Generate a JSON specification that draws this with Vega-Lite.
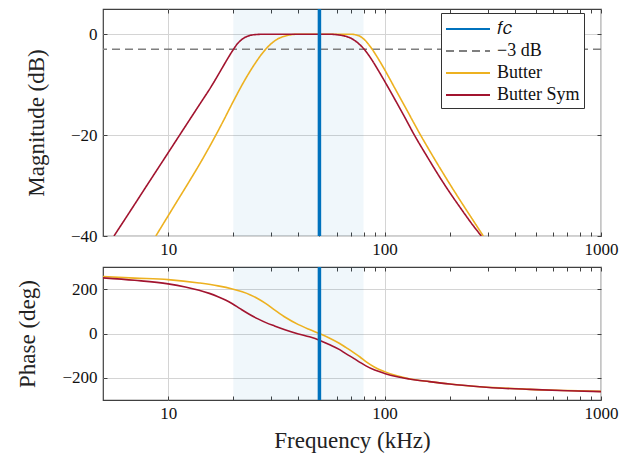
{
  "$schema": "https://vega.github.io/schema/vega-lite/v6.json",
  "background": "white",
  "padding": {"left": 16, "top": 6, "right": 0, "bottom": 2},
  "spacing": 6,
  "datasets": {
    "mag": [
      {"s": "Butter", "f": 8.77, "db": -40},
      {"s": "Butter", "f": 10, "db": -36.0},
      {"s": "Butter", "f": 11.22, "db": -32.5},
      {"s": "Butter", "f": 12.59, "db": -29.0},
      {"s": "Butter", "f": 14.13, "db": -25.4},
      {"s": "Butter", "f": 15.85, "db": -21.6},
      {"s": "Butter", "f": 17.78, "db": -17.6},
      {"s": "Butter", "f": 19.95, "db": -13.4},
      {"s": "Butter", "f": 22.39, "db": -9.4},
      {"s": "Butter", "f": 25.12, "db": -5.9},
      {"s": "Butter", "f": 27.8, "db": -3.3},
      {"s": "Butter", "f": 31.62, "db": -1.1},
      {"s": "Butter", "f": 35.48, "db": -0.25},
      {"s": "Butter", "f": 39.81, "db": 0},
      {"s": "Butter", "f": 50, "db": 0},
      {"s": "Butter", "f": 60, "db": 0},
      {"s": "Butter", "f": 69.2, "db": 0},
      {"s": "Butter", "f": 74.1, "db": -0.15},
      {"s": "Butter", "f": 79.4, "db": -0.8},
      {"s": "Butter", "f": 83.2, "db": -1.7},
      {"s": "Butter", "f": 87.7, "db": -3.0},
      {"s": "Butter", "f": 93.3, "db": -4.8},
      {"s": "Butter", "f": 100, "db": -7.0},
      {"s": "Butter", "f": 112.2, "db": -10.9},
      {"s": "Butter", "f": 125.9, "db": -14.8},
      {"s": "Butter", "f": 144.9, "db": -19.6},
      {"s": "Butter", "f": 158.5, "db": -22.5},
      {"s": "Butter", "f": 177.8, "db": -26.1},
      {"s": "Butter", "f": 199.5, "db": -29.6},
      {"s": "Butter", "f": 223.9, "db": -33.0},
      {"s": "Butter", "f": 251.2, "db": -36.3},
      {"s": "Butter", "f": 285.8, "db": -40},
      {"s": "Butter Sym", "f": 5.62, "db": -40},
      {"s": "Butter Sym", "f": 6.31, "db": -36.7},
      {"s": "Butter Sym", "f": 7.08, "db": -33.4},
      {"s": "Butter Sym", "f": 7.94, "db": -30.1},
      {"s": "Butter Sym", "f": 8.91, "db": -26.8},
      {"s": "Butter Sym", "f": 10, "db": -23.5},
      {"s": "Butter Sym", "f": 11.22, "db": -20.2},
      {"s": "Butter Sym", "f": 12.59, "db": -16.9},
      {"s": "Butter Sym", "f": 14.13, "db": -13.6},
      {"s": "Butter Sym", "f": 15.85, "db": -10.3},
      {"s": "Butter Sym", "f": 17.38, "db": -7.4},
      {"s": "Butter Sym", "f": 18.62, "db": -5.2},
      {"s": "Butter Sym", "f": 19.82, "db": -3.3},
      {"s": "Butter Sym", "f": 20.89, "db": -1.9},
      {"s": "Butter Sym", "f": 22.13, "db": -0.9},
      {"s": "Butter Sym", "f": 23.44, "db": -0.35},
      {"s": "Butter Sym", "f": 25.12, "db": -0.08},
      {"s": "Butter Sym", "f": 28.18, "db": 0},
      {"s": "Butter Sym", "f": 40, "db": 0},
      {"s": "Butter Sym", "f": 54.95, "db": 0},
      {"s": "Butter Sym", "f": 60.26, "db": -0.1},
      {"s": "Butter Sym", "f": 64.57, "db": -0.3},
      {"s": "Butter Sym", "f": 69.18, "db": -0.7},
      {"s": "Butter Sym", "f": 74.13, "db": -1.5},
      {"s": "Butter Sym", "f": 80.54, "db": -3.0},
      {"s": "Butter Sym", "f": 87.1, "db": -5.0},
      {"s": "Butter Sym", "f": 93.33, "db": -7.1},
      {"s": "Butter Sym", "f": 100, "db": -9.3},
      {"s": "Butter Sym", "f": 112.2, "db": -13.1},
      {"s": "Butter Sym", "f": 125.9, "db": -17.0},
      {"s": "Butter Sym", "f": 134.9, "db": -19.4},
      {"s": "Butter Sym", "f": 158.5, "db": -24.5},
      {"s": "Butter Sym", "f": 177.8, "db": -28.0},
      {"s": "Butter Sym", "f": 199.5, "db": -31.3},
      {"s": "Butter Sym", "f": 223.9, "db": -34.4},
      {"s": "Butter Sym", "f": 251.2, "db": -37.4},
      {"s": "Butter Sym", "f": 279.9, "db": -40}
    ],
    "phase": [
      {"s": "Butter", "f": 5, "deg": 257},
      {"s": "Butter", "f": 7, "deg": 250},
      {"s": "Butter", "f": 10, "deg": 243},
      {"s": "Butter", "f": 13.9, "deg": 228},
      {"s": "Butter", "f": 17, "deg": 215},
      {"s": "Butter", "f": 19.8, "deg": 201},
      {"s": "Butter", "f": 22, "deg": 188},
      {"s": "Butter", "f": 24, "deg": 174},
      {"s": "Butter", "f": 26, "deg": 157},
      {"s": "Butter", "f": 28.3, "deg": 135},
      {"s": "Butter", "f": 31, "deg": 107},
      {"s": "Butter", "f": 34.9, "deg": 72},
      {"s": "Butter", "f": 40, "deg": 40},
      {"s": "Butter", "f": 45, "deg": 18},
      {"s": "Butter", "f": 50, "deg": 0},
      {"s": "Butter", "f": 55.5, "deg": -20},
      {"s": "Butter", "f": 62, "deg": -45},
      {"s": "Butter", "f": 66.5, "deg": -64},
      {"s": "Butter", "f": 72, "deg": -86},
      {"s": "Butter", "f": 77, "deg": -106},
      {"s": "Butter", "f": 82, "deg": -127},
      {"s": "Butter", "f": 90, "deg": -152},
      {"s": "Butter", "f": 100, "deg": -172},
      {"s": "Butter", "f": 113, "deg": -190},
      {"s": "Butter", "f": 130, "deg": -204},
      {"s": "Butter", "f": 161, "deg": -217},
      {"s": "Butter", "f": 200, "deg": -228},
      {"s": "Butter", "f": 275, "deg": -240},
      {"s": "Butter", "f": 350, "deg": -246},
      {"s": "Butter", "f": 470, "deg": -252},
      {"s": "Butter", "f": 700, "deg": -257},
      {"s": "Butter", "f": 1000, "deg": -261},
      {"s": "Butter Sym", "f": 5, "deg": 251},
      {"s": "Butter Sym", "f": 7, "deg": 240},
      {"s": "Butter Sym", "f": 10, "deg": 224},
      {"s": "Butter Sym", "f": 12, "deg": 210},
      {"s": "Butter Sym", "f": 13.9, "deg": 195},
      {"s": "Butter Sym", "f": 15.5, "deg": 181},
      {"s": "Butter Sym", "f": 17, "deg": 166},
      {"s": "Butter Sym", "f": 18.5, "deg": 150},
      {"s": "Butter Sym", "f": 19.8, "deg": 134},
      {"s": "Butter Sym", "f": 21.5, "deg": 112},
      {"s": "Butter Sym", "f": 23.7, "deg": 87},
      {"s": "Butter Sym", "f": 26, "deg": 66},
      {"s": "Butter Sym", "f": 28.3, "deg": 49},
      {"s": "Butter Sym", "f": 31, "deg": 34},
      {"s": "Butter Sym", "f": 34.9, "deg": 16},
      {"s": "Butter Sym", "f": 40, "deg": -2},
      {"s": "Butter Sym", "f": 45, "deg": -15},
      {"s": "Butter Sym", "f": 50, "deg": -30},
      {"s": "Butter Sym", "f": 55.5, "deg": -50},
      {"s": "Butter Sym", "f": 62, "deg": -73},
      {"s": "Butter Sym", "f": 66.5, "deg": -92},
      {"s": "Butter Sym", "f": 72, "deg": -112},
      {"s": "Butter Sym", "f": 77, "deg": -130},
      {"s": "Butter Sym", "f": 82, "deg": -146},
      {"s": "Butter Sym", "f": 90, "deg": -165},
      {"s": "Butter Sym", "f": 100, "deg": -180},
      {"s": "Butter Sym", "f": 113, "deg": -194},
      {"s": "Butter Sym", "f": 130, "deg": -205},
      {"s": "Butter Sym", "f": 161, "deg": -217},
      {"s": "Butter Sym", "f": 200, "deg": -228},
      {"s": "Butter Sym", "f": 275, "deg": -240},
      {"s": "Butter Sym", "f": 350, "deg": -247},
      {"s": "Butter Sym", "f": 470, "deg": -252},
      {"s": "Butter Sym", "f": 700, "deg": -258},
      {"s": "Butter Sym", "f": 1000, "deg": -262}
    ],
    "fc": [{"s": "𝑓𝑐", "f": 50}],
    "ref": [{"s": "−3 dB", "db": -3}],
    "band": [{"f1": 20, "f2": 80}]
  },
  "vconcat": [
    {
      "width": 498,
      "height": 227,
      "resolve": {"axis": {"x": "independent", "y": "independent"}},
      "layer": [
        {
          "layer": [
            {
              "data": {"name": "band"},
              "mark": {"type": "rect", "fill": "#0072BD", "opacity": 0.06},
              "encoding": {
                "x": {"field": "f1", "type": "quantitative", "scale": {"type": "log", "domain": [5, 1000], "nice": false},
                  "axis": {"orient": "bottom", "title": null, "values": [10,20,30,40,50,60,70,80,90,100,200,300,400,500,600,700,800,900,1000],
                    "labelExpr": "indexof([10,100,1000], datum.value) >= 0 ? format(datum.value, 'd') : ''",
                    "gridOpacity": {"condition": {"test": "indexof([10,100,1000], datum.value) >= 0", "value": 1}, "value": 0}}},
                "x2": {"field": "f2"}
              }
            },
            {
              "data": {"name": "ref"},
              "mark": {"type": "rule", "strokeWidth": 1.5},
              "encoding": {
                "y": {"field": "db", "type": "quantitative", "scale": {"domain": [-40, 5], "nice": false, "zero": false},
                  "axis": {"orient": "left", "title": "Magnitude (dB)", "values": [-40, -20, 0]}},
                "color": {"field": "s", "type": "nominal"},
                "strokeDash": {"field": "s", "type": "nominal"}
              }
            },
            {
              "data": {"name": "mag"},
              "mark": {"type": "line", "strokeWidth": 1.6, "interpolate": "monotone", "clip": true},
              "encoding": {
                "x": {"field": "f", "type": "quantitative"},
                "y": {"field": "db", "type": "quantitative"},
                "color": {"field": "s", "type": "nominal"},
                "strokeDash": {"field": "s", "type": "nominal"}
              }
            },
            {
              "data": {"name": "fc"},
              "mark": {"type": "rule", "strokeWidth": 3.5},
              "encoding": {
                "x": {"field": "f", "type": "quantitative"},
                "color": {"field": "s", "type": "nominal",
                  "scale": {"domain": ["𝑓𝑐", "−3 dB", "Butter", "Butter Sym"], "range": ["#0072BD", "#7f7f7f", "#EDB120", "#A2142F"]},
                  "legend": {"title": null, "orient": "none", "legendX": 338, "legendY": 4}},
                "strokeDash": {"field": "s", "type": "nominal",
                  "scale": {"domain": ["𝑓𝑐", "−3 dB", "Butter", "Butter Sym"], "range": [[1, 0], [8, 5], [1, 0], [1, 0]]},
                  "legend": {"title": null, "orient": "none", "legendX": 338, "legendY": 4}}
              }
            }
          ]
        },
        {
          "data": {"name": "mag"},
          "mark": {"type": "point", "opacity": 0},
          "encoding": {
            "x": {"field": "f", "type": "quantitative",
              "axis": {"orient": "top", "title": null, "labels": false, "grid": false, "values": [10,20,30,40,50,60,70,80,90,100,200,300,400,500,600,700,800,900,1000]}},
            "y": {"field": "db", "type": "quantitative",
              "axis": {"orient": "right", "title": null, "labels": false, "grid": false, "values": [-40, -20, 0]}}
          }
        }
      ]
    },
    {
      "width": 498,
      "height": 133,
      "resolve": {"axis": {"x": "independent", "y": "independent"}},
      "layer": [
        {
          "layer": [
            {
              "data": {"name": "band"},
              "mark": {"type": "rect", "fill": "#0072BD", "opacity": 0.06},
              "encoding": {
                "x": {"field": "f1", "type": "quantitative", "scale": {"type": "log", "domain": [5, 1000], "nice": false},
                  "axis": {"orient": "bottom", "title": "Frequency (kHz)", "values": [10,20,30,40,50,60,70,80,90,100,200,300,400,500,600,700,800,900,1000],
                    "labelExpr": "indexof([10,100,1000], datum.value) >= 0 ? format(datum.value, 'd') : ''",
                    "gridOpacity": {"condition": {"test": "indexof([10,100,1000], datum.value) >= 0", "value": 1}, "value": 0}}},
                "x2": {"field": "f2"}
              }
            },
            {
              "data": {"name": "phase"},
              "mark": {"type": "line", "strokeWidth": 1.6, "interpolate": "monotone", "clip": true},
              "encoding": {
                "x": {"field": "f", "type": "quantitative"},
                "y": {"field": "deg", "type": "quantitative", "scale": {"domain": [-300, 300], "nice": false, "zero": false},
                  "axis": {"orient": "left", "title": "Phase (deg)", "values": [-200, 0, 200]}},
                "color": {"field": "s", "type": "nominal",
                  "scale": {"domain": ["Butter", "Butter Sym"], "range": ["#EDB120", "#A2142F"]}, "legend": null}
              }
            },
            {
              "data": {"name": "fc"},
              "mark": {"type": "rule", "strokeWidth": 3.5, "color": "#0072BD"},
              "encoding": {
                "x": {"field": "f", "type": "quantitative"}
              }
            }
          ]
        },
        {
          "data": {"name": "phase"},
          "mark": {"type": "point", "opacity": 0},
          "encoding": {
            "x": {"field": "f", "type": "quantitative",
              "axis": {"orient": "top", "title": null, "labels": false, "grid": false, "values": [10,20,30,40,50,60,70,80,90,100,200,300,400,500,600,700,800,900,1000]}},
            "y": {"field": "deg", "type": "quantitative",
              "axis": {"orient": "right", "title": null, "labels": false, "grid": false, "values": [-200, 0, 200]}}
          }
        }
      ]
    }
  ],
  "resolve": {"scale": {"color": "independent", "strokeDash": "independent"}, "legend": {"color": "independent", "strokeDash": "independent"}},
  "config": {
    "font": "Liberation Serif",
    "view": {"stroke": "#404040", "strokeWidth": 1.2},
    "axis": {
      "domain": false,
      "grid": true,
      "gridColor": "#d4d4d4",
      "gridWidth": 1,
      "tickColor": "#404040",
      "tickSize": -4,
      "tickWidth": 1,
      "labelFont": "Liberation Serif",
      "labelFontSize": 17,
      "labelColor": "#111",
      "labelPadding": 10,
      "labelFlush": false,
      "labelOverlap": false,
      "titleFont": "Liberation Serif",
      "titleFontSize": 23,
      "titleFontWeight": "normal",
      "titleColor": "#222",
      "titlePadding": 22
    },
    "axisX": {"titlePadding": 8, "labelPadding": 9},
    "legend": {
      "symbolType": "M-1,0H3",
      "symbolSize": 484,
      "symbolStrokeWidth": 2,
      "labelFont": "Liberation Serif",
      "labelFontSize": 18,
      "labelColor": "#111",
      "labelOffset": 28,
      "strokeColor": "#333",
      "fillColor": "white",
      "padding": 4,
      "rowPadding": 1,
      "cornerRadius": 0
    }
  }
}
